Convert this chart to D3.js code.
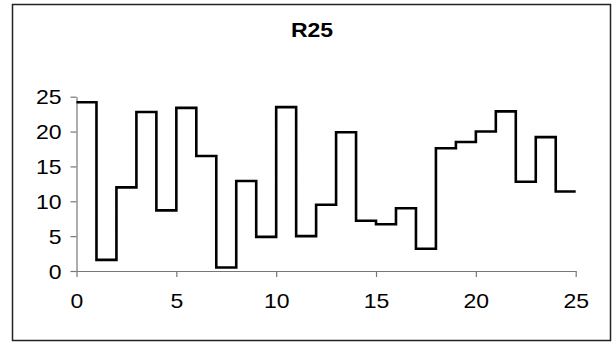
<!DOCTYPE html>
<html>
<head>
<meta charset="utf-8">
<script src="https://cdn.jsdelivr.net/npm/d3@7"></script>
<style>
  html, body { margin: 0; padding: 0; background: #fff; }
  svg { display: block; }
  text { font-family: "Liberation Sans", Arial, sans-serif; fill: #000; }
</style>
</head>
<body>
<svg id="chart" width="613" height="344"></svg>
<script>
// Step series R25: each value is held over one unit interval [i, i+1)
const title = "R25";
const values = [24.2, 1.6, 12.0, 22.8, 8.7, 23.4, 16.5, 0.5, 12.9, 4.9,
                23.5, 5.0, 9.5, 19.9, 7.2, 6.7, 9.0, 3.2, 17.6, 18.5,
                20.0, 22.9, 12.8, 19.2, 11.4];
const xTicks = [0, 5, 10, 15, 20, 25];
const yTicks = [0, 5, 10, 15, 20, 25];

// Text is drawn slightly widened
const stretch = 1.15;

const svg = d3.select("#chart");

// Outer frame
svg.append("rect")
  .attr("x", 12.5).attr("y", 4.5)
  .attr("width", 598).attr("height", 336)
  .attr("fill", "none").attr("stroke", "#222").attr("stroke-width", 1.5);

const x = d3.scaleLinear().domain([0, 25]).range([76.5, 575.7]);
const y = d3.scaleLinear().domain([0, 25]).range([271, 96.7]);

// Title
svg.append("text")
  .attr("transform", `translate(312,37) scale(${stretch},1)`)
  .attr("text-anchor", "middle")
  .attr("font-weight", "bold")
  .attr("font-size", 20)
  .text(title);

// Axes
const axisColor = "#777";
const gx = svg.append("g")
  .attr("transform", `translate(0,${y(0)})`)
  .call(d3.axisBottom(x).tickValues(xTicks).tickSize(6).tickPadding(17).tickSizeOuter(0));
const gy = svg.append("g")
  .attr("transform", `translate(${x(0)},0)`)
  .call(d3.axisLeft(y).tickValues(yTicks).tickSize(6).tickPadding(9).tickSizeOuter(0));

[gx, gy].forEach(g => {
  g.select(".domain").attr("stroke", axisColor).attr("stroke-width", 1.2);
  g.selectAll(".tick line").attr("stroke", axisColor).attr("stroke-width", 1.2);
  g.selectAll(".tick text")
    .attr("font-family", "'Liberation Sans', Arial, sans-serif")
    .attr("font-size", 20)
    .attr("fill", "#000");
});

// Widen tick labels about their anchor points
gx.selectAll(".tick text")
  .attr("transform", `scale(${stretch},1)`);
gy.selectAll(".tick text")
  .attr("x", -15 / stretch)
  .attr("dy", "0.35em")
  .attr("transform", `scale(${stretch},1)`);

// Step line: horizontal run over each interval, joined by vertical risers
const pts = values.flatMap((v, i) => [[i, v], [i + 1, v]]);
const line = d3.line().x(d => x(d[0])).y(d => y(d[1]));
svg.append("path")
  .attr("d", line(pts))
  .attr("fill", "none")
  .attr("stroke", "#000")
  .attr("stroke-width", 2.6)
  .attr("stroke-linejoin", "miter");
</script>
</body>
</html>
